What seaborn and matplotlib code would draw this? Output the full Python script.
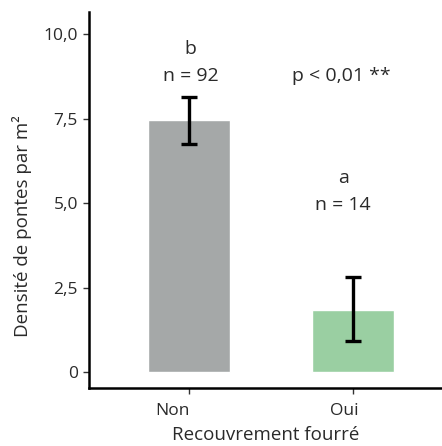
import numpy as np
import pandas as pd
import matplotlib
matplotlib.use("Agg")
import matplotlib.pyplot as plt
import matplotlib.transforms as mtransforms
import seaborn as sns

# Data
categories = ["Non", "Oui"]
densities = [7.45, 1.83]
err_low = [6.75, 0.92]
err_high = [8.14, 2.81]
letters = ["b", "a"]
counts = [92, 14]
bar_colors = ["#a5a8a8", "#9acfa2"]
y_ticks = [0, 2.5, 5.0, 7.5, 10.0]
y_tick_labels = ["0", "2,5", "5,0", "7,5", "10,0"]

sns.set_theme(style="white")
plt.rcParams["font.family"] = ["Open Sans", "DejaVu Sans"]

df = pd.DataFrame({"Recouvrement": categories, "Densite": densities})

fig = plt.figure(figsize=(4.42, 4.46), dpi=100)
ax = fig.add_axes([0.2014, 0.130, 0.7986, 0.843])

sns.barplot(data=df, x="Recouvrement", y="Densite", hue="Recouvrement",
            palette=bar_colors, width=0.5, errorbar=None, legend=False,
            saturation=1, ax=ax)

x_pos = np.arange(len(categories))
means = np.array(densities)
yerr = [means - np.array(err_low), np.array(err_high) - means]
ax.errorbar(x_pos, means, yerr=yerr, fmt="none", ecolor="black",
            elinewidth=2.4, capsize=6, capthick=2.4)

# annotations above bars
txt_color = "#2a2a2a"
label_x = [0.01, 0.94]
letter_y = [9.41, 5.59]
count_y = [8.61, 4.79]
for i in range(len(categories)):
    ax.text(label_x[i], letter_y[i], letters[i], ha="center", va="baseline",
            fontsize=14, color=txt_color)
    ax.text(label_x[i], count_y[i], f"n = {counts[i]}", ha="center",
            va="baseline", fontsize=14, color=txt_color)
ax.text(0.93, 8.61, "p < 0,01 **", ha="center", va="baseline",
        fontsize=14, color=txt_color)

ax.set_xlim(-0.61, 1.543)
ax.set_ylim(-0.47, 10.65)
ax.set_yticks(y_ticks)
ax.set_yticklabels(y_tick_labels)

ax.set_xlabel("Recouvrement fourré", fontsize=13.5, color=txt_color, labelpad=5)
ax.set_ylabel("Densité de pontes par m²", fontsize=13.5, color=txt_color)
ax.yaxis.set_label_coords(-0.161, 0.43)

for side in ["top", "right"]:
    ax.spines[side].set_visible(False)
for side in ["left", "bottom"]:
    ax.spines[side].set_color("black")
    ax.spines[side].set_linewidth(1.8)

ax.tick_params(axis="both", direction="out", length=4, width=1,
               color="#333333", labelsize=12.5, labelcolor=txt_color, pad=4)
ax.tick_params(axis="x", bottom=True, pad=7)
ax.tick_params(axis="y", left=True)

# the x tick labels sit a little left of their ticks in the reference
shifts = [-17, -9]
for lbl, dx in zip(ax.get_xticklabels(), shifts):
    offset = mtransforms.ScaledTranslation(dx / 100, 0, fig.dpi_scale_trans)
    lbl.set_transform(lbl.get_transform() + offset)

fig.savefig("out.png", dpi=100)
